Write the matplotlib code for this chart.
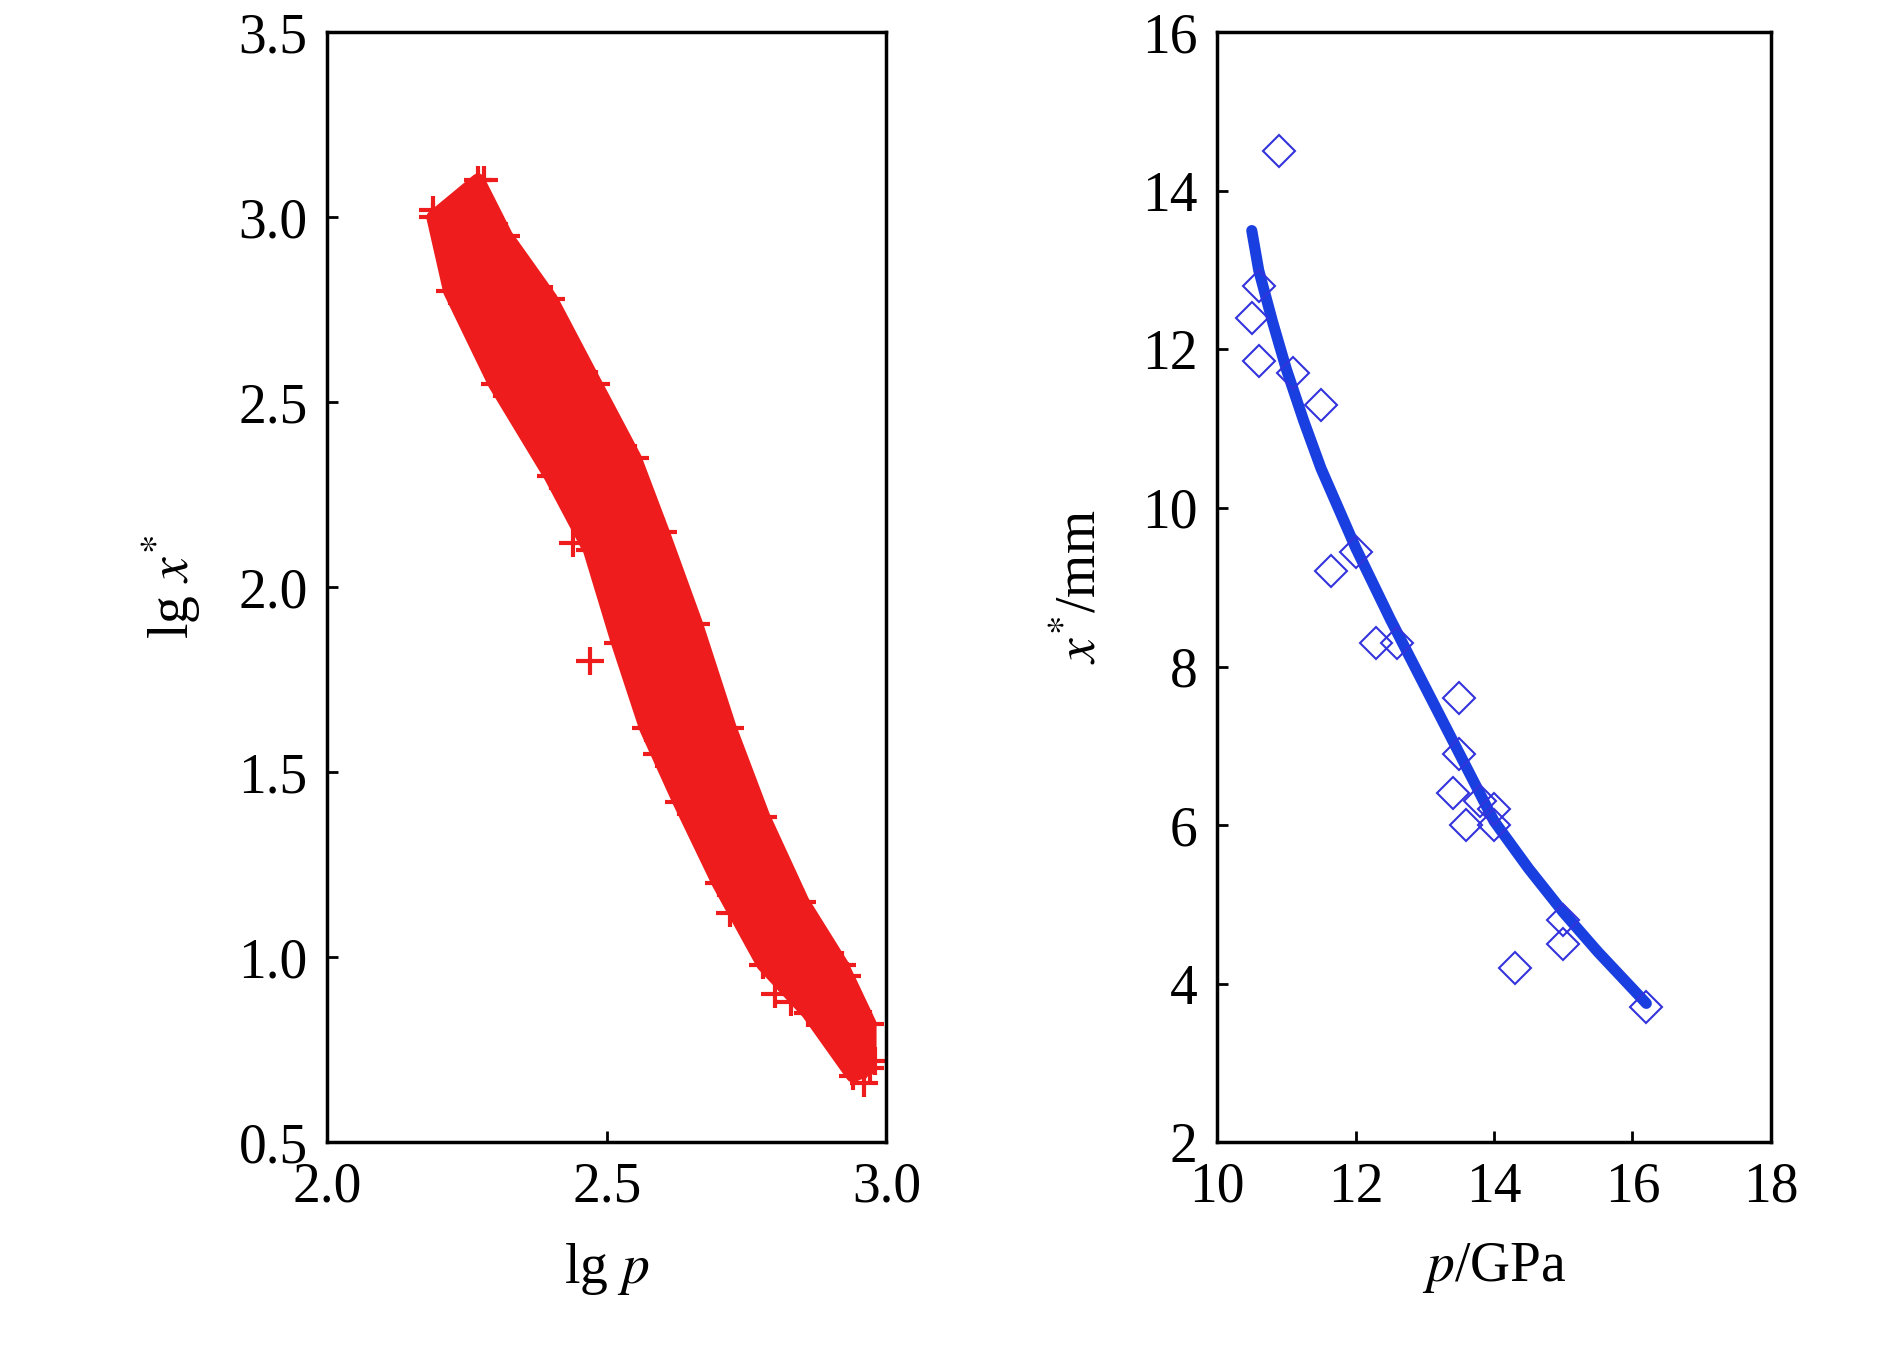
import matplotlib
matplotlib.use('Agg')
import matplotlib.pyplot as plt
import numpy as np

plt.rcParams['font.family'] = ['Liberation Serif', 'DejaVu Serif']
plt.rcParams['mathtext.fontset'] = 'stix'

# left panel: outline of the dense point cloud (lg p, lg x*)
cloud_upper_x = [2.27, 2.32, 2.40, 2.48, 2.55, 2.60, 2.66, 2.72, 2.78, 2.85, 2.92, 2.97, 2.97]
cloud_upper_y = [3.10, 2.95, 2.78, 2.55, 2.35, 2.15, 1.90, 1.62, 1.38, 1.15, 0.98, 0.82, 0.70]
cloud_lower_x = [2.94, 2.86, 2.78, 2.70, 2.63, 2.57, 2.52, 2.47, 2.40, 2.30, 2.22, 2.19]
cloud_lower_y = [0.68, 0.85, 0.98, 1.20, 1.42, 1.62, 1.85, 2.10, 2.30, 2.55, 2.80, 3.00]
outlier_x = [2.19, 2.22, 2.24, 2.28, 2.26, 2.44, 2.53, 2.47, 2.59, 2.66, 2.84, 2.83,
             2.96, 2.80, 2.72, 2.45, 2.93, 2.98, 2.56, 2.36]
outlier_y = [3.02, 2.98, 2.90, 3.10, 3.06, 2.12, 2.35, 1.80, 1.55, 1.42, 0.98, 0.88,
             0.66, 0.90, 1.12, 2.22, 0.95, 0.72, 1.98, 2.82]

# right panel: measured points and fit
p_pts = [10.9, 10.5, 10.6, 10.6, 11.1, 11.5, 11.65, 12.0, 12.3, 12.6, 13.4, 13.5,
         13.5, 13.6, 13.8, 14.0, 14.0, 14.3, 15.0, 15.0, 16.2]
x_pts = [14.5, 12.4, 12.8, 11.85, 11.7, 11.3, 9.2, 9.45, 8.3, 8.3, 6.4, 6.9,
         7.6, 6.0, 6.3, 6.2, 6.0, 4.2, 4.8, 4.5, 3.7]
fit_p = [10.5, 10.6, 10.8, 11.0, 11.25, 11.5, 11.75, 12.0, 12.5, 13.0, 13.5, 14.0,
         14.5, 15.0, 15.5, 16.2]
fit_x = [13.5, 13.0, 12.35, 11.75, 11.1, 10.5, 10.0, 9.5, 8.6, 7.75, 6.9, 6.05,
         5.45, 4.9, 4.4, 3.75]

fig = plt.figure(figsize=(18.9, 13.5), dpi=100)
ax1 = fig.add_axes([0.173, 0.154, 0.296, 0.822])
ax2 = fig.add_axes([0.644, 0.154, 0.293, 0.822])

red = '#ee1c1c'
ax1.fill(cloud_upper_x + cloud_lower_x, cloud_upper_y + cloud_lower_y,
         color=red, lw=10, ec=red, joinstyle='round')
ax1.plot(cloud_upper_x + cloud_lower_x, cloud_upper_y + cloud_lower_y, '+',
         color=red, ms=20, mew=3)
ax1.plot(outlier_x, outlier_y, '+', color=red, ms=20, mew=3)
ax1.set_xlim(2.0, 3.0)
ax1.set_ylim(0.5, 3.5)
ax1.set_xticks([2.0, 2.5, 3.0])
ax1.set_yticks([0.5, 1.0, 1.5, 2.0, 2.5, 3.0, 3.5])
ax1.xaxis.set_major_formatter(matplotlib.ticker.FormatStrFormatter('%.1f'))
ax1.yaxis.set_major_formatter(matplotlib.ticker.FormatStrFormatter('%.1f'))
ax1.set_xlabel(r'lg $\it{p}$', fontsize=40, labelpad=20)
ax1.set_ylabel(r'lg $\it{x}^{*}$', fontsize=40, labelpad=25)

ax2.plot(fit_p, fit_x, color='#1a3fe0', lw=8, solid_capstyle='round')
ax2.plot(p_pts, x_pts, 'D', mfc='none', mec='#3333dd', ms=16, mew=1.5)
ax2.set_xlim(10, 18)
ax2.set_ylim(2, 16)
ax2.set_xticks([10, 12, 14, 16, 18])
ax2.set_yticks([2, 4, 6, 8, 10, 12, 14, 16])
ax2.set_xlabel(r'$\it{p}$/GPa', fontsize=40, labelpad=20)
ax2.set_ylabel(r'$\it{x}^{*}$/mm', fontsize=40, labelpad=25)

for ax in (ax1, ax2):
    ax.tick_params(direction='in', length=8, width=2, labelsize=40, pad=14,
                   top=False, right=False)
    for s in ax.spines.values():
        s.set_linewidth(2.5)

fig.savefig('out.png', dpi=100)
